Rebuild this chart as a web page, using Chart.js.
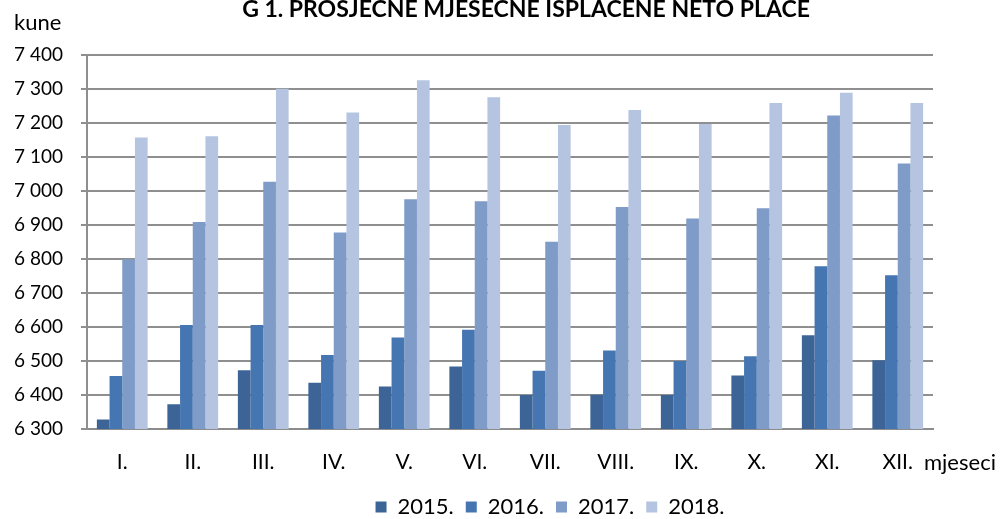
<!DOCTYPE html>
<html>
<head>
<meta charset="utf-8">
<script src="https://cdn.jsdelivr.net/npm/chart.js@4/dist/chart.umd.min.js"></script>
<style>
html,body{margin:0;padding:0;background:#fff;}
#wrap{width:1000px;height:519px;position:relative;}
</style>
</head>
<body>
<div id="wrap"><canvas id="c" width="1000" height="519"></canvas></div>
<script>
const months = ['I.', 'II.', 'III.', 'IV.', 'V.', 'VI.', 'VII.', 'VIII.', 'IX.', 'X.', 'XI.', 'XII.'];
const seriesNames = ['2015.', '2016.', '2017.', '2018.'];
const v2015 = [6328, 6373, 6473, 6436, 6425, 6484, 6400, 6401, 6400, 6457, 6576, 6502];
const v2016 = [6456, 6606, 6606, 6518, 6569, 6592, 6471, 6531, 6500, 6514, 6779, 6752];
const v2017 = [6799, 6909, 7027, 6878, 6976, 6970, 6851, 6953, 6919, 6949, 7222, 7081];
const v2018 = [7157, 7161, 7301, 7231, 7326, 7276, 7194, 7238, 7197, 7259, 7289, 7259];
const yMin = 6300, yMax = 7400, yStep = 100;
const titleText = 'G 1. PROSJEČNE MJESEČNE ISPLAĆENE NETO PLAĆE';
const yAxisTitle = 'kune';
const xAxisTitle = 'mjeseci';

const colors = ['#3C6497', '#4676B1', '#7F9BC7', '#B5C4E0'];
const FONT = 'Lato, "Open Sans", "DejaVu Sans", sans-serif';

const extraText = {
  id: 'extraText',
  afterLayout(chart) {
    // centre the legend under the whole figure, like the original
    if (chart.legend) {
      chart.legend.left = 100;
      chart.legend.right = 1000;
    }
  },
  afterDraw(chart) {
    const ctx = chart.ctx;
    ctx.save();
    ctx.fillStyle = '#000';
    ctx.textBaseline = 'alphabetic';
    ctx.font = 'bold 23px ' + FONT;
    ctx.textAlign = 'center';
    ctx.fillText(titleText, 526, 17);
    ctx.font = '22px ' + FONT;
    ctx.textAlign = 'left';
    ctx.fillText(yAxisTitle, 14, 30);
    ctx.fillText(xAxisTitle, 924, 470);
    ctx.restore();
  }
};

const fmt = v => String(v).replace(/\B(?=(\d{3})+(?!\d))/g, ' ');

new Chart(document.getElementById('c'), {
  type: 'bar',
  data: {
    labels: months,
    datasets: [v2015, v2016, v2017, v2018].map((d, i) => ({
      label: seriesNames[i],
      data: d,
      backgroundColor: colors[i],
      borderWidth: 0
    }))
  },
  options: {
    responsive: false,
    animation: false,
    layout: { padding: { left: 0, right: 67, top: 55, bottom: -9 } },
    plugins: {
      title: { display: false },
      tooltip: { enabled: false },
      legend: {
        display: true,
        position: 'bottom',
        labels: {
          boxWidth: 11,
          boxHeight: 11,
          padding: 12,
          color: '#000',
          font: { size: 22, family: FONT }
        }
      }
    },
    datasets: { bar: { categoryPercentage: 0.72, barPercentage: 1 } },
    scales: {
      x: {
        grid: { display: false, drawTicks: false },
        border: { display: true, color: '#8c8c8c', width: 2 },
        ticks: { color: '#000', font: { size: 21, family: FONT }, padding: 21, maxRotation: 0 },
        afterFit(s) { s.height = 55; }
      },
      y: {
        min: yMin, max: yMax,
        grid: { color: '#8f8f8f', lineWidth: 2, tickLength: 6, drawTicks: true },
        border: { display: true, color: '#8f8f8f', width: 2 },
        ticks: {
          stepSize: yStep,
          color: '#000',
          font: { size: 19, family: FONT },
          padding: 18,
          callback: v => fmt(v)
        },
        afterFit(s) { s.width = 87; }
      }
    }
  },
  plugins: [extraText]
});
</script>
</body>
</html>
